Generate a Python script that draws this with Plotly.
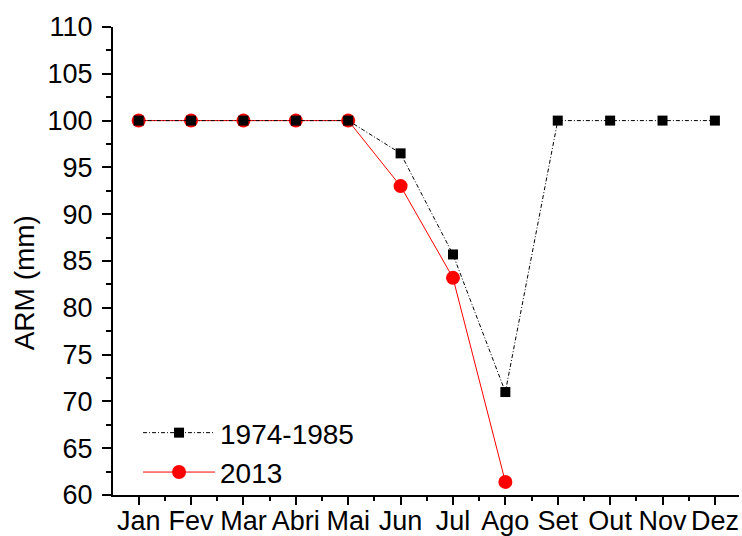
import plotly.graph_objects as go

months = ["Jan", "Fev", "Mar", "Abri", "Mai", "Jun", "Jul", "Ago", "Set", "Out", "Nov", "Dez"]
arm_1974_1985 = [100, 100, 100, 100, 100, 96.5, 85.7, 71.0, 100, 100, 100, 100]
arm_2013 = [100, 100, 100, 100, 100, 93.0, 83.2, 61.4]
y_ticks = [60, 65, 70, 75, 80, 85, 90, 95, 100, 105, 110]

x_idx = list(range(len(months)))
FONT = "Liberation Sans, Arial, sans-serif"

fig = go.Figure()
fig.add_trace(go.Scatter(
    x=x_idx[:len(arm_2013)], y=arm_2013, name="2013", mode="lines+markers",
    line=dict(color="#ff0000", width=1),
    marker=dict(symbol="circle", size=14, color="#ff0000"),
    legendrank=2,
))
fig.add_trace(go.Scatter(
    x=x_idx, y=arm_1974_1985, name="1974-1985", mode="lines+markers",
    line=dict(color="black", width=1, dash="4px,2px,1px,2px"),
    marker=dict(symbol="square", size=10, color="black"),
    legendrank=1,
))

xr = [-0.49, 11.46]
yr = [60, 110]
TICK = 27
fig.update_layout(
    width=742, height=536,
    margin=dict(l=113, r=3, t=27, b=41),
    paper_bgcolor="white", plot_bgcolor="white",
    font=dict(family=FONT, size=TICK, color="black"),
    showlegend=True,
    legend=dict(x=0.040, y=0.186, xanchor="left", yanchor="top",
                bgcolor="rgba(0,0,0,0)", font=dict(size=28),
                itemwidth=72, tracegroupgap=0),
    xaxis=dict(range=xr, tickmode="array", tickvals=x_idx, ticktext=months,
               ticks="outside", ticklen=8, tickwidth=1.5, tickcolor="black",
               showline=True, linecolor="black", linewidth=2, showgrid=False, zeroline=False,
               automargin=False, ticklabelstandoff=-7,
               minor=dict(ticks="outside", ticklen=4, tickwidth=1.5, tickcolor="black",
                          tickmode="linear", tick0=0.5, dtick=1, showgrid=False),
               tickfont=dict(size=TICK)),
    yaxis=dict(range=yr, tickmode="array", tickvals=y_ticks,
               ticks="outside", ticklen=9, tickwidth=1.5, tickcolor="black",
               showline=True, linecolor="black", linewidth=2, showgrid=False, zeroline=False,
               automargin=False, ticklabelstandoff=4,
               minor=dict(ticks="outside", ticklen=5, tickwidth=1.5, tickcolor="black",
                          tickmode="linear", tick0=62.5, dtick=5, showgrid=False),
               tickfont=dict(size=TICK)),
    xaxis2=dict(range=xr, overlaying="x", side="top", anchor="y", tickmode="array",
                tickvals=x_idx, showticklabels=False, automargin=False,
                ticks="inside", ticklen=8, tickwidth=1.5, tickcolor="black",
                showline=True, linecolor="black", linewidth=2, showgrid=False, zeroline=False,
                minor=dict(ticks="inside", ticklen=4, tickwidth=1.5, tickcolor="black",
                           tickmode="linear", tick0=0.5, dtick=1, showgrid=False)),
    yaxis2=dict(range=yr, overlaying="y", side="right", anchor="x", tickmode="array",
                tickvals=y_ticks, showticklabels=False, automargin=False,
                ticks="inside", ticklen=8, tickwidth=1.5, tickcolor="black",
                showline=True, linecolor="black", linewidth=2, showgrid=False, zeroline=False,
                minor=dict(ticks="inside", ticklen=5, tickwidth=1.5, tickcolor="black",
                           tickmode="linear", tick0=62.5, dtick=5, showgrid=False)),
    annotations=[dict(text="ARM (mm)", xref="paper", yref="paper", x=-0.140, y=0.453,
                      xanchor="center", yanchor="middle", textangle=-90, showarrow=False,
                      font=dict(size=28, family=FONT))],
)

fig.write_html("out.html", config={"displayModeBar": False},
               post_script="document.body.style.margin='0';document.body.style.overflow='hidden';")
